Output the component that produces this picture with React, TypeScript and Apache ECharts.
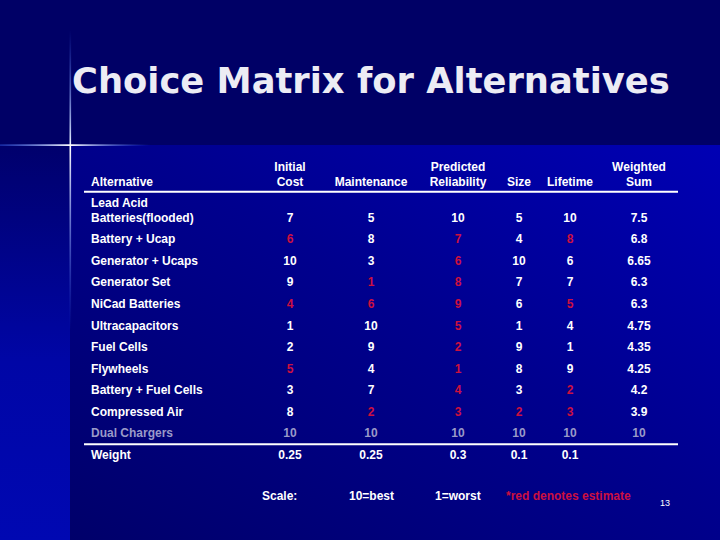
import React, { useEffect, useRef } from "react";
import * as echarts from "echarts";

const titleText = "Choice Matrix for Alternatives";
const headerLabel = "Alternative";
const columns = ["Initial\nCost", "Maintenance", "Predicted\nReliability", "Size", "Lifetime", "Weighted\nSum"];
const alternatives = [
  "Lead Acid\nBatteries(flooded)",
  "Battery + Ucap",
  "Generator + Ucaps",
  "Generator Set",
  "NiCad Batteries",
  "Ultracapacitors",
  "Fuel Cells",
  "Flywheels",
  "Battery + Fuel Cells",
  "Compressed Air",
  "Dual Chargers",
];
const weightLabel = "Weight";

const initialCost = [7, 6, 10, 9, 4, 1, 2, 5, 3, 8, 10];
const maintenance = [5, 8, 3, 1, 6, 10, 9, 4, 7, 2, 10];
const reliability = [10, 7, 6, 8, 9, 5, 2, 1, 4, 3, 10];
const size = [5, 4, 10, 7, 6, 1, 9, 8, 3, 2, 10];
const lifetime = [10, 8, 6, 7, 5, 4, 1, 9, 2, 3, 10];
const weightedSum = [7.5, 6.8, 6.65, 6.3, 6.3, 4.75, 4.35, 4.25, 4.2, 3.9, 10];
const weights = [0.25, 0.25, 0.3, 0.1, 0.1];

// 1 = value is an estimate (shown in red)
const initialCostEst = [0, 1, 0, 0, 1, 0, 0, 1, 0, 0, 0];
const maintenanceEst = [0, 0, 0, 1, 1, 0, 0, 0, 0, 1, 0];
const reliabilityEst = [0, 1, 1, 1, 1, 1, 1, 1, 1, 1, 0];
const sizeEst = [0, 0, 0, 0, 0, 0, 0, 0, 0, 1, 0];
const lifetimeEst = [0, 1, 0, 0, 1, 0, 0, 0, 1, 1, 0];
const weightedSumEst = [0, 0, 0, 0, 0, 0, 0, 0, 0, 0, 0];

const footerTexts = ["Scale:", "10=best", "1=worst", "*red denotes estimate"];
const pageNumber = "13";

// layout (pixel positions, not data)
const colX = [290, 371, 458, 519, 570, 639];
const labelX = 91;
const footerX = [262, 349, 435, 506];

const WHITE = "#ffffff";
const RED = "#cc1040";
const GREY = "#9a9ac8";
const FONT = "bold 12px 'Liberation Sans', Arial, sans-serif";

export default function App() {
  const ref = useRef<HTMLDivElement>(null);
  useEffect(() => {
    if (!ref.current) return;
    const chart = echarts.init(ref.current, null, { renderer: "svg" });

    const rows = [...alternatives, weightLabel];
    const valueCols = [initialCost, maintenance, reliability, size, lifetime, weightedSum];
    const estCols = [initialCostEst, maintenanceEst, reliabilityEst, sizeEst, lifetimeEst, weightedSumEst];
    const dualIdx = alternatives.indexOf("Dual Chargers");

    const cellData: any[] = [];
    const cellText: string[] = [];
    const cellColor: string[] = [];
    const cellLeft: boolean[] = [];
    valueCols.forEach((col, c) => {
      col.forEach((v, r) => {
        cellData.push([colX[c], r, cellText.length]);
        cellText.push(String(v));
        cellColor.push(r === dualIdx ? GREY : estCols[c][r] ? RED : WHITE);
        cellLeft.push(false);
      });
    });
    weights.forEach((w, c) => {
      cellData.push([colX[c], rows.length - 1, cellText.length]);
      cellText.push(String(w));
      cellColor.push(WHITE);
      cellLeft.push(false);
    });
    rows.forEach((name, r) => {
      cellData.push([labelX, r, cellText.length]);
      cellText.push(name);
      cellColor.push(r === dualIdx ? GREY : WHITE);
      cellLeft.push(true);
    });

    const headerEls: any[] = [
      {
        type: "text",
        z: 5,
        x: labelX,
        y: 182,
        style: {
          text: headerLabel,
          fill: WHITE,
          font: FONT,
          verticalAlign: "middle",
          textVerticalAlign: "middle",
        },
      },
    ];
    columns.forEach((h, c) => {
      const lines = h.split("\n").length;
      headerEls.push({
        type: "text",
        z: 5,
        x: colX[c],
        y: 182 - ((lines - 1) * 15.5) / 2,
        style: {
          text: h,
          fill: WHITE,
          font: FONT,
          lineHeight: 15.5,
          align: "center",
          verticalAlign: "middle",
          textAlign: "center",
          textVerticalAlign: "middle",
        },
      });
    });

    const option: any = {
      animation: false,
      backgroundColor: "#000066",
      grid: { left: 0, right: 0, top: 206.9, bottom: 74.2 },
      xAxis: { type: "value", min: 0, max: 720, show: false },
      yAxis: {
        type: "category",
        data: rows,
        inverse: true,
        show: false,
      },
      graphic: [
        {
          type: "rect",
          z: 0,
          shape: { x: 70, y: 145, width: 650, height: 395 },
          style: {
            fill: new echarts.graphic.LinearGradient(0, 1, 1, 0, [
              { offset: 0, color: "#00006a" },
              { offset: 0.55, color: "#00008e" },
              { offset: 1, color: "#0000b4" },
            ]),
          },
        },
        {
          type: "rect",
          z: 0,
          shape: { x: 0, y: 145, width: 70, height: 395 },
          style: {
            fill: new echarts.graphic.LinearGradient(0, 0, 0, 1, [
              { offset: 0, color: "#00006c" },
              { offset: 0.55, color: "#0006a6" },
              { offset: 1, color: "#0008b2" },
            ]),
          },
        },
        {
          type: "rect",
          z: 1,
          shape: { x: 69.5, y: 30, width: 1.6, height: 300 },
          style: {
            fill: new echarts.graphic.LinearGradient(0, 0, 0, 1, [
              { offset: 0, color: "rgba(60,110,255,0)" },
              { offset: 0.38, color: "rgba(230,240,255,1)" },
              { offset: 0.39, color: "rgba(255,255,255,1)" },
              { offset: 1, color: "rgba(60,110,255,0)" },
            ]),
          },
        },
        {
          type: "rect",
          z: 1,
          shape: { x: 0, y: 144.3, width: 150, height: 1.6 },
          style: {
            fill: new echarts.graphic.LinearGradient(0, 0, 1, 0, [
              { offset: 0, color: "rgba(60,110,255,0.35)" },
              { offset: 0.47, color: "rgba(255,255,255,1)" },
              { offset: 1, color: "rgba(60,110,255,0)" },
            ]),
          },
        },
        {
          type: "text",
          z: 5,
          left: 72,
          top: 63,
          style: {
            text: titleText,
            fill: "#ececf4",
            font: "bold 35.3px 'DejaVu Sans', Verdana, sans-serif",
          },
        },
        ...headerEls,
        {
          type: "rect",
          z: 5,
          shape: { x: 84, y: 190.8, width: 594, height: 2 },
          style: { fill: WHITE },
        },
        {
          type: "rect",
          z: 5,
          shape: { x: 84, y: 443.2, width: 594, height: 2 },
          style: { fill: WHITE },
        },
        ...footerTexts.map((t, i) => ({
          type: "text",
          z: 5,
          x: footerX[i],
          y: 496,
          style: {
            text: t,
            fill: i === 3 ? RED : WHITE,
            font: FONT,
            verticalAlign: "middle",
            textVerticalAlign: "middle",
          },
        })),
        {
          type: "text",
          z: 5,
          x: 660,
          y: 503,
          style: {
            text: pageNumber,
            fill: WHITE,
            font: "9px 'Liberation Sans', Arial, sans-serif",
            verticalAlign: "middle",
            textVerticalAlign: "middle",
          },
        },
      ],
      series: [
        {
          type: "custom",
          coordinateSystem: "cartesian2d",
          z: 10,
          clip: false,
          data: cellData,
          renderItem: (params: any, api: any) => {
            const x = api.value(0);
            const r = api.value(1);
            const idx = api.value(2);
            const isLabel = cellLeft[idx];
            const p = api.coord([x, r]);
            const text = cellText[idx];
            const lines = text.split("\n").length;
            return {
              type: "text",
              x: p[0],
              y: p[1] - ((lines - 1) * 15) / 2,
              style: {
                text,
                fill: cellColor[idx],
                font: FONT,
                lineHeight: 15,
                align: isLabel ? "left" : "center",
                textAlign: isLabel ? "left" : "center",
                verticalAlign: "middle",
                textVerticalAlign: "middle",
              },
            };
          },
        },
      ],
    };
    chart.setOption(option);
    return () => chart.dispose();
  }, []);
  return (
    <div
      ref={ref}
      style={{ position: "fixed", left: 0, top: 0, width: 720, height: 540 }}
    />
  );
}
